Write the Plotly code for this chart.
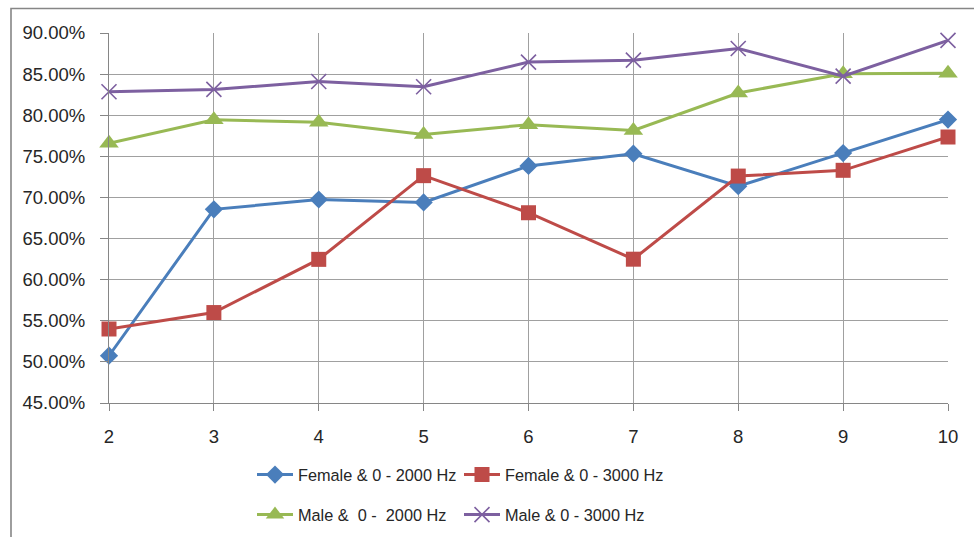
import plotly.graph_objects as go

x_vals = [2, 3, 4, 5, 6, 7, 8, 9, 10]
female_2000 = [0.5075, 0.6855, 0.6975, 0.6940, 0.7383, 0.7532, 0.7136, 0.7540, 0.7947]
female_3000 = [0.5400, 0.5600, 0.6247, 0.7265, 0.6814, 0.6249, 0.7260, 0.7330, 0.7735]
male_2000 = [0.7660, 0.7945, 0.7915, 0.7765, 0.7885, 0.7815, 0.8270, 0.8505, 0.8510]
male_3000 = [0.8285, 0.8314, 0.8410, 0.8346, 0.8646, 0.8670, 0.8812, 0.8476, 0.8910]

names = ["Female & 0 - 2000 Hz", "Female & 0 - 3000 Hz",
         "Male &  0 -  2000 Hz", "Male & 0 - 3000 Hz"]
colors = ["#4A7EBB", "#BE4B48", "#98B954", "#7D60A0"]
symbols = ["diamond", "square", "triangle-up", "x-thin"]
sizes = [14, 15, 17, 15]
legends = ["legend", "legend", "legend2", "legend2"]
series = [female_2000, female_3000, male_2000, male_3000]

W, H = 974, 537
L, R, T, B = 109, 26, 33, 134
pw, ph = W - L - R, H - T - B

def px_x(p):
    return (p - L) / pw

def px_y(p):
    return (H - B - p) / ph

fig = go.Figure()
for i in range(4):
    mk = dict(symbol=symbols[i], size=sizes[i], color=colors[i])
    if symbols[i] == "x-thin":
        mk["line"] = dict(color=colors[i], width=1.6)
    else:
        mk["line"] = dict(width=0)
    fig.add_trace(go.Scatter(
        x=x_vals, y=series[i], name=names[i], mode="lines+markers",
        line=dict(color=colors[i], width=3), marker=mk,
        legend=legends[i], cliponaxis=False,
    ))

font_family = "Liberation Sans, Arial, sans-serif"
axis_col = "#868686"
grid_col = "#A0A0A0"
legend_common = dict(orientation="h", xref="container", yref="container",
                     x=252 / W, xanchor="left",
                     yanchor="middle", entrywidth=156, entrywidthmode="pixels",
                     itemwidth=36, font=dict(size=16.3), bgcolor="rgba(0,0,0,0)")

fig.update_layout(
    width=W, height=H,
    margin=dict(l=L, r=R, t=T, b=B, autoexpand=False),
    paper_bgcolor="white", plot_bgcolor="white",
    font=dict(family=font_family, size=17, color="#262626"),
    xaxis=dict(range=[2, 10], dtick=1, tick0=2, showgrid=True, gridcolor=grid_col,
               gridwidth=1, showline=True, linecolor=axis_col, linewidth=1,
               ticks="outside", ticklen=7, tickcolor=axis_col, zeroline=False,
               ticklabelstandoff=10, tickfont=dict(size=18.5)),
    yaxis=dict(range=[0.45, 0.90], dtick=0.05, tick0=0.45, tickformat=".2%",
               showgrid=True, gridcolor=grid_col, gridwidth=1, showline=True,
               linecolor=axis_col, linewidth=1, ticks="outside", ticklen=8,
               tickcolor=axis_col, zeroline=False, ticklabelstandoff=11,
               tickfont=dict(size=18.5)),
    legend=dict(legend_common, y=1 - 475 / H),
    legend2=dict(legend_common, y=1 - 515 / H),
    showlegend=True,
    shapes=[dict(type="path", xref="paper", yref="paper",
                 path=f"M {px_x(11)},{px_y(560)} L {px_x(11)},{px_y(8.5)} L {px_x(990)},{px_y(8.5)}",
                 line=dict(color=axis_col, width=1.6), layer="above")],
)

fig.write_html("out.html", config={"displayModeBar": False},
               post_script="document.body.style.margin='0';document.body.style.overflow='hidden';")
